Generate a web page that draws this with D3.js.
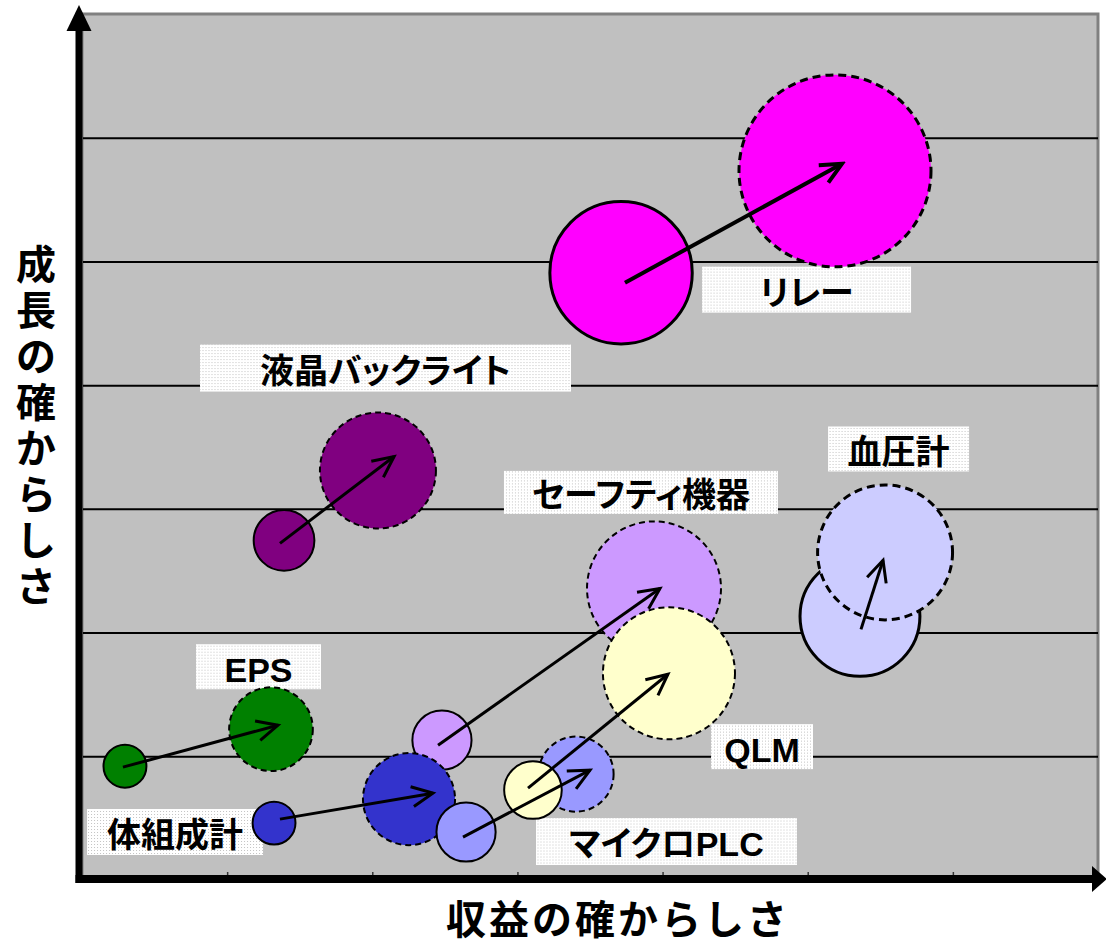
<!DOCTYPE html>
<html><head><meta charset="utf-8">
<script src="https://cdn.jsdelivr.net/npm/d3@7"></script>
<style>
html,body{margin:0;padding:0;background:#fff;}
svg{display:block;}
</style></head><body>
<svg id="chart" width="1106" height="947"></svg>
<script>
// Products, listed in the order they are layered
const products = ["液晶バックライト","EPS","リレー","血圧計","セーフティ機器","体組成計","マイクロPLC","QLM"];

// Current position (solid outline)
const nowX    = [1.392, 0.296, 3.714, 5.360, 2.480, 1.323, 2.646, 3.107];
const nowY    = [2.745, 0.920, 4.909, 2.131, 1.130, 0.460, 0.388, 0.727];
const nowSize = [10, 5, 55, 39, 9.5, 5, 9.5, 9];

// Target position (dashed outline)
const nextX    = [2.039, 1.302, 5.188, 5.533, 3.941, 2.253, 3.404, 4.044];
const nextY    = [3.310, 1.219, 5.732, 2.648, 2.357, 0.654, 0.856, 1.671];
const nextSize = [36.5, 19, 100, 49.4, 48.7, 23, 15.3, 47.3];

// Movement arrows
const arrowFromX = [1.364, 0.282, 3.741, 5.367, 2.453, 1.364, 2.625, 3.073];
const arrowFromY = [2.721, 0.912, 4.828, 2.026, 1.090, 0.492, 0.347, 0.743];
const arrowToX   = [2.150, 1.350, 5.236, 5.519, 3.982, 2.418, 3.500, 4.037];
const arrowToY   = [3.423, 1.251, 5.789, 2.584, 2.357, 0.702, 0.888, 1.663];

// Label anchors
const labelX = [2.091, 1.216, 4.992, 5.626, 3.851, 0.641, 4.027, 4.685];
const labelY = [4.138, 1.724, 4.772, 3.484, 3.133, 0.388, 0.311, 1.078];

// Axes
const xTicks = [1, 2, 3, 4, 5, 6];
const yTicks = [1, 2, 3, 4, 5, 6];
const xTitle = "収益の確からしさ";
const yTitle = "成長の確からしさ";

// ---- styles ----
const fillColor = {
  "液晶バックライト": "#800080", "EPS": "#008000", "リレー": "#FF00FF", "血圧計": "#CCCCFF",
  "セーフティ機器": "#CC99FF", "体組成計": "#3333CC", "マイクロPLC": "#9999FF", "QLM": "#FFFFCC"
};
const heavy = new Set(["リレー", "血圧計"]);
const labelBox = {
  "液晶バックライト": [371, 47], "EPS": [125, 45], "リレー": [209, 46], "血圧計": [141, 45],
  "セーフティ機器": [274, 43], "体組成計": [176, 46], "マイクロPLC": [261, 47], "QLM": [102, 45]
};
const labelFont = '"Liberation Sans", "Noto Sans CJK JP", sans-serif';
const titleFont = '"Noto Sans CJK JP", sans-serif';

// ---- scales ----
const x = d3.scaleLinear().domain([0, 7]).range([82, 1098]);
const y = d3.scaleLinear().domain([0, 7]).range([880, 14]);
const r = d3.scaleSqrt().domain([0, 100]).range([0, 96]);

const svg = d3.select("#chart");
const defs = svg.append("defs");

// dotted label background
const pat = defs.append("pattern").attr("id", "dots")
  .attr("width", 3).attr("height", 3).attr("patternUnits", "userSpaceOnUse");
pat.append("rect").attr("width", 3).attr("height", 3).attr("fill", "#ffffff");
pat.append("rect").attr("width", 1).attr("height", 1).attr("fill", "#c4c4c4");

// open arrowheads
[["head", 3], ["headHeavy", 4]].forEach(([id, w]) => {
  defs.append("marker").attr("id", id)
    .attr("markerUnits", "userSpaceOnUse")
    .attr("viewBox", "-28 -15 32 30")
    .attr("markerWidth", 32).attr("markerHeight", 30)
    .attr("refX", 0).attr("refY", 0)
    .attr("orient", "auto")
    .append("path")
    .attr("d", "M-21,-10L0,0L-21,10")
    .attr("fill", "none").attr("stroke", "#000")
    .attr("stroke-width", w).attr("stroke-linejoin", "miter");
});

// plot area
svg.append("rect")
  .attr("x", x(0)).attr("y", y(7))
  .attr("width", x(7) - x(0)).attr("height", y(0) - y(7))
  .attr("fill", "#c0c0c0").attr("stroke", "#808080").attr("stroke-width", 3);

// horizontal gridlines
const grid = svg.append("g")
  .attr("transform", `translate(${x(0) + 1},0)`)
  .call(d3.axisLeft(y).tickValues(yTicks).tickSize(-(x(7) - x(0) - 1)).tickFormat(""));
grid.select(".domain").remove();
grid.selectAll(".tick line").attr("stroke", "#000").attr("stroke-width", 2);

// small ticks on the horizontal axis
const xt = svg.append("g")
  .attr("transform", `translate(0,${y(0) - 5})`)
  .call(d3.axisBottom(x).tickValues(xTicks).tickSizeInner(-3).tickSizeOuter(0).tickFormat(""));
xt.select(".domain").remove();
xt.selectAll(".tick line").attr("stroke", "#333").attr("stroke-width", 1.5);

const items = products.map((name, i) => ({
  name, i,
  now: { x: nowX[i], y: nowY[i], s: nowSize[i] },
  next: { x: nextX[i], y: nextY[i], s: nextSize[i] },
  from: [arrowFromX[i], arrowFromY[i]],
  to: [arrowToX[i], arrowToY[i]],
  label: [labelX[i], labelY[i]]
}));

// labels
const lab = svg.append("g").selectAll("g").data(items).join("g")
  .attr("transform", d => `translate(${x(d.label[0])},${y(d.label[1])})`);
lab.append("rect")
  .attr("x", d => -labelBox[d.name][0] / 2).attr("y", d => -labelBox[d.name][1] / 2)
  .attr("width", d => labelBox[d.name][0]).attr("height", d => labelBox[d.name][1])
  .attr("fill", "url(#dots)");
lab.append("text")
  .attr("text-anchor", "middle").attr("dy", "0.44em")
  .attr("font-family", labelFont).attr("font-weight", "bold").attr("font-size", 34)
  .style("font-feature-settings", '"palt"')
  .attr("fill", "#000")
  .text(d => d.name);

// bubbles: current (solid) then target (dashed), product by product
const bub = svg.append("g");
items.forEach(d => {
  const w = heavy.has(d.name) ? 3 : 2;
  bub.append("circle")
    .attr("cx", x(d.now.x)).attr("cy", y(d.now.y)).attr("r", r(d.now.s))
    .attr("fill", fillColor[d.name]).attr("stroke", "#000").attr("stroke-width", w);
  bub.append("circle")
    .attr("cx", x(d.next.x)).attr("cy", y(d.next.y)).attr("r", r(d.next.s))
    .attr("fill", fillColor[d.name]).attr("stroke", "#000").attr("stroke-width", w)
    .attr("stroke-dasharray", heavy.has(d.name) ? "8,5" : "6,4");
});

// movement arrows
svg.append("g").selectAll("line").data(items).join("line")
  .attr("x1", d => x(d.from[0])).attr("y1", d => y(d.from[1]))
  .attr("x2", d => x(d.to[0])).attr("y2", d => y(d.to[1]))
  .attr("stroke", "#000")
  .attr("stroke-width", d => d.name === "リレー" ? 4 : 3)
  .attr("marker-end", d => d.name === "リレー" ? "url(#headHeavy)" : "url(#head)");

// axis lines with arrowheads
const axX = x(0) - 3, axY = y(0) - 1;
svg.append("line").attr("x1", axX).attr("x2", axX).attr("y1", 28).attr("y2", axY + 4)
  .attr("stroke", "#000").attr("stroke-width", 7);
svg.append("path").attr("d", `M${axX - 12.5},31L${axX + 12.5},31L${axX},5Z`).attr("fill", "#000");
svg.append("line").attr("x1", axX - 3.5).attr("x2", 1094).attr("y1", axY).attr("y2", axY)
  .attr("stroke", "#000").attr("stroke-width", 8);
svg.append("path").attr("d", `M1092,${axY - 13}L1092,${axY + 13}L1107,${axY}Z`).attr("fill", "#000");

// axis titles
svg.append("text")
  .attr("x", 618).attr("y", 917)
  .attr("text-anchor", "middle").attr("dominant-baseline", "central")
  .attr("font-family", titleFont).attr("font-weight", "bold").attr("font-size", 40)
  .style("letter-spacing", "3px")
  .text(xTitle);

// vertical title, one character per line
const yt = svg.append("text")
  .attr("text-anchor", "middle").attr("dominant-baseline", "central")
  .attr("font-family", titleFont).attr("font-weight", "bold").attr("font-size", 40);
yt.selectAll("tspan").data(Array.from(yTitle)).join("tspan")
  .attr("x", 36).attr("y", (c, k) => 262 + k * 46)
  .text(c => c);
</script>
</body></html>
